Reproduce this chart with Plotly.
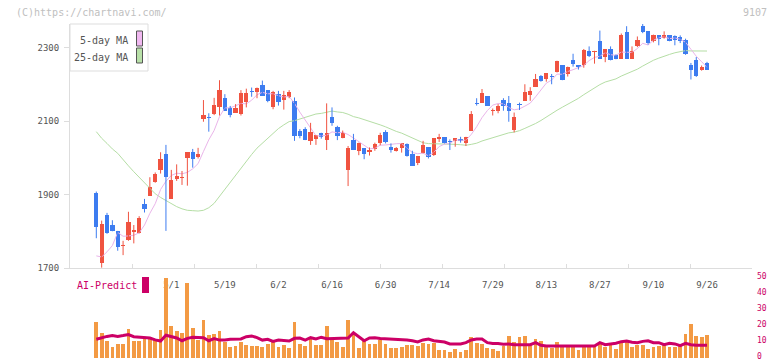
import plotly.graph_objects as go

# ---------------- data ----------------
tick_idx = [14, 24, 34, 44, 54, 64, 74, 84, 94, 104, 114]
tick_labels = ["5/1", "5/19", "6/2", "6/16", "6/30", "7/14", "7/29", "8/13", "8/27", "9/10", "9/26"]

open_ = [1905, 1714, 1844, 1817, 1801, 1759, 1776, 1799, 1796, 1874,
         1897, 1934, 1967, 2010, 1889, 1942, 1944, 2000, 2015, 2003,
         2105, 2111, 2118, 2139, 2162, 2136, 2123, 2119, 2152, 2182,
         2178, 2198, 2184, 2138, 2173, 2157, 2164, 2154, 2073, 2078,
         2046, 2051, 2068, 2048, 2112, 2085, 2053, 1967, 2048, 2019,
         2026, 2015, 2024, 2041, 2071, 2028, 2019, 2027, 2037, 2010,
         1987, 2012, 2028, 2007, 2052, 2056, 2045, 2046, 2050, 2041,
         2074, 2149, 2150, 2168, 2126, 2128, 2157, 2148, 2076, 2146,
         2155, 2171, 2193, 2222, 2214, 2222, 2232, 2252, 2228, 2266,
         2252, 2252, 2291, 2287, 2317, 2274, 2296, 2279, 2270, 2342,
         2270, 2305, 2358, 2344, 2317, 2334, 2326, 2333, 2330, 2328,
         2321, 2252, 2265, 2240, 2258]
high = [1908, 1829, 1850, 1830, 1801, 1774, 1853, 1817, 1841, 1888,
        1947, 1960, 2015, 2035, 1967, 1982, 1964, 2015, 2024, 2027,
        2157, 2121, 2163, 2211, 2173, 2141, 2146, 2184, 2188, 2191,
        2191, 2210, 2184, 2182, 2182, 2182, 2184, 2164, 2078, 2083,
        2095, 2062, 2068, 2148, 2137, 2087, 2074, 2032, 2065, 2041,
        2026, 2028, 2041, 2068, 2075, 2039, 2029, 2039, 2039, 2019,
        2005, 2046, 2028, 2053, 2065, 2056, 2050, 2053, 2057, 2057,
        2127, 2162, 2187, 2168, 2134, 2146, 2162, 2168, 2123, 2150,
        2200, 2192, 2228, 2225, 2230, 2228, 2264, 2252, 2248, 2283,
        2252, 2296, 2303, 2291, 2346, 2296, 2303, 2281, 2338, 2358,
        2303, 2330, 2364, 2344, 2335, 2334, 2344, 2333, 2333, 2333,
        2324, 2258, 2274, 2251, 2261]
low = [1781, 1701, 1793, 1800, 1747, 1735, 1774, 1767, 1794, 1851,
       1896, 1932, 1957, 1801, 1889, 1937, 1926, 1924, 1973, 1998,
       2098, 2071, 2116, 2115, 2128, 2110, 2123, 2115, 2137, 2166,
       2162, 2169, 2151, 2132, 2142, 2131, 2162, 2046, 2053, 2048,
       2035, 2035, 2052, 2021, 2087, 2048, 2053, 1923, 2021, 2007,
       1996, 2006, 2019, 2034, 2039, 2014, 2017, 2014, 2003, 1978,
       1980, 2012, 1998, 2005, 2043, 2039, 2021, 2030, 2041, 2032,
       2074, 2142, 2150, 2142, 2115, 2121, 2128, 2098, 2069, 2130,
       2155, 2155, 2193, 2207, 2207, 2200, 2232, 2211, 2221, 2248,
       2240, 2245, 2274, 2256, 2270, 2260, 2265, 2268, 2270, 2270,
       2270, 2301, 2339, 2308, 2314, 2306, 2324, 2317, 2306, 2312,
       2280, 2213, 2220, 2237, 2240]
close = [1812, 1821, 1794, 1801, 1756, 1760, 1825, 1803, 1835, 1861,
         1920, 1956, 1996, 1948, 1939, 1951, 1948, 2015, 1996, 2010,
         2116, 2107, 2143, 2184, 2128, 2117, 2136, 2175, 2177, 2178,
         2191, 2169, 2155, 2178, 2152, 2172, 2178, 2059, 2059, 2048,
         2071, 2062, 2057, 2068, 2094, 2059, 2068, 2027, 2021, 2041,
         2010, 2021, 2037, 2062, 2044, 2021, 2027, 2039, 2006, 1978,
         2005, 2035, 2003, 2053, 2056, 2039, 2043, 2053, 2046, 2057,
         2119, 2147, 2177, 2142, 2131, 2141, 2142, 2128, 2110, 2144,
         2178, 2183, 2214, 2210, 2230, 2220, 2264, 2212, 2247, 2255,
         2248, 2294, 2278, 2291, 2270, 2296, 2267, 2270, 2335, 2270,
         2291, 2320, 2341, 2312, 2335, 2324, 2333, 2317, 2321, 2317,
         2283, 2238, 2222, 2247, 2240]
# volume in 10k shares
volume = [908, 625, 433, 283, 350, 350, 725, 433, 433, 518,
          500, 475, 700, 2000, 808, 683, 625, 1875, 750, 458,
          950, 575, 600, 683, 393, 268, 308, 408, 325, 308,
          308, 283, 350, 433, 283, 333, 250, 908, 350, 308,
          518, 325, 325, 808, 500, 393, 283, 950, 643, 250,
          458, 350, 350, 458, 340, 250, 250, 268, 325, 325,
          293, 368, 350, 368, 208, 208, 143, 225, 143, 200,
          518, 375, 350, 250, 225, 183, 293, 543, 393, 518,
          543, 325, 475, 433, 325, 250, 393, 325, 325, 325,
          208, 325, 293, 293, 368, 283, 325, 225, 393, 450,
          283, 325, 325, 225, 268, 293, 333, 283, 268, 325,
          600, 850, 558, 533, 575]
ai_predict = [11.7, 12.7, 13.5, 14.0, 13.5, 14.0, 14.6, 13.3, 13.1, 13.1,
              12.5, 11.3, 10.6, 14.2, 13.3, 12.5, 10.8, 12.3, 13.0, 13.0,
              12.7, 10.8, 12.1, 11.2, 11.2, 11.7, 11.9, 11.9, 13.3, 13.8,
              12.7, 11.2, 11.7, 10.4, 11.2, 10.8, 10.6, 12.3, 12.5, 11.2,
              12.7, 11.9, 13.0, 12.1, 12.3, 12.3, 12.3, 12.5, 15.8, 13.3,
              10.8, 12.5, 12.7, 12.2, 12.1, 11.8, 11.7, 11.7, 11.3, 10.8,
              10.0, 11.3, 11.9, 10.8, 10.4, 10.0, 8.8, 8.8, 8.8, 9.6,
              11.3, 11.9, 11.9, 9.6, 9.0, 9.0, 8.6, 8.8, 8.3, 8.3,
              8.3, 8.3, 9.6, 7.9, 7.5, 7.5, 7.9, 7.9, 7.9, 7.9,
              7.5, 7.9, 7.5, 7.5, 9.6, 8.3, 8.8, 9.2, 10.2, 10.6,
              9.8, 9.6, 10.4, 10.8, 9.6, 9.6, 8.3, 9.2, 8.8, 7.7,
              9.2, 8.3, 7.9, 7.9, 7.9]
ma5_head = [1733, 1730, 1744, 1761]
ma25_head = [2071, 2053, 2039, 2024, 2012, 1994, 1978, 1962, 1947, 1933,
             1917, 1902, 1892, 1883, 1874, 1867, 1861, 1857, 1856, 1855,
             1857, 1864, 1876, 1895, 1916, 1934, 1952, 1970]
ticker = "9107"

# ---------------- derived ----------------
n = len(close)
idx = list(range(n))
ma5 = ma5_head + [sum(close[i - 4:i + 1]) / 5 for i in range(len(ma5_head), n)]
ma25 = ma25_head + [sum(close[i - 24:i + 1]) / 25 for i in range(len(ma25_head), n)]

W, H = 772, 361
def px(x): return x / W
def py(y): return 1 - y / H

X_L, X_R = 70, 752
FIRST_PX, STEP_PX = 96.3, 5.357
x_range = [(X_L - FIRST_PX) / STEP_PX, (X_R - FIRST_PX) / STEP_PX]
MAIN_TOP, MAIN_BOT = 24, 268
y_range = [1700, 1700 + (MAIN_BOT - MAIN_TOP) * 200 / 73.5]
SUB_TOP, SUB_BOT = 278, 358

UP, DOWN = "#f05340", "#3d7cf0"
FONT = "DejaVu Sans Mono"

fig = go.Figure()

# MA lines
fig.add_trace(go.Scatter(x=idx, y=ma25, mode="lines", line=dict(color="#b5dea5", width=1),
                         hoverinfo="skip", showlegend=False))
fig.add_trace(go.Scatter(x=idx, y=ma5, mode="lines", line=dict(color="#eab5ea", width=1),
                         hoverinfo="skip", showlegend=False))

# candles
for up, col in ((True, UP), (False, DOWN)):
    sel = [i for i in idx if (close[i] >= open_[i]) == up]
    wx, wy = [], []
    for i in sel:
        wx += [i, i, None]
        wy += [low[i], high[i], None]
    fig.add_trace(go.Scatter(x=wx, y=wy, mode="lines", line=dict(color=col, width=1),
                             hoverinfo="skip", showlegend=False))
    fig.add_trace(go.Bar(x=sel,
                         base=[min(open_[i], close[i]) for i in sel],
                         y=[max(abs(close[i] - open_[i]), 2.7) for i in sel],
                         width=0.8, marker=dict(color=col, line=dict(width=0)),
                         hoverinfo="skip", showlegend=False))

# volume + AI predict
fig.add_trace(go.Bar(x=idx, y=volume, width=0.7, marker=dict(color="#f39a44", line=dict(width=0)),
                     xaxis="x2", yaxis="y2", hoverinfo="skip", showlegend=False))
fig.add_trace(go.Scatter(x=idx, y=ai_predict, mode="lines", line=dict(color="#cc0066", width=3),
                         xaxis="x2", yaxis="y3", hoverinfo="skip", showlegend=False))

# decorative tick positions every 62 px along the time axis
n_grid = 11
grid_vals = [x_range[0] + k * (x_range[1] - x_range[0]) / n_grid for k in range(n_grid + 1)]

axis_font = dict(family=FONT, size=9, color="#555555")
fig.update_layout(
    width=W, height=H, autosize=False,
    margin=dict(l=0, r=0, t=0, b=0, autoexpand=False),
    paper_bgcolor="white", plot_bgcolor="white",
    barmode="overlay", bargap=0, hovermode=False,
    xaxis=dict(domain=[px(X_L), px(X_R)], range=x_range, showgrid=False, zeroline=False,
               showline=True, linecolor="#dddddd", linewidth=1, automargin=False,
               tickmode="array", tickvals=tick_idx, ticktext=tick_labels,
               ticks="", tickfont=axis_font, ticklabelstandoff=8, anchor="y"),
    xaxis3=dict(overlaying="x", matches="x", anchor="y", showgrid=False, zeroline=False,
                showline=False, tickmode="array", tickvals=grid_vals, ticks="inside",
                ticklen=4, tickcolor="#dddddd", showticklabels=False, side="bottom",
                automargin=False),
    yaxis=dict(domain=[py(MAIN_BOT), py(MAIN_TOP)], range=y_range, showgrid=False, zeroline=False,
               showline=True, linecolor="#dddddd", linewidth=1, automargin=False,
               tickmode="array", tickvals=[1700, 1900, 2100, 2300],
               ticks="outside", ticklen=5, tickcolor="#dddddd", tickfont=axis_font,
               ticklabelstandoff=3, anchor="x"),
    xaxis2=dict(domain=[px(X_L), px(X_R)], range=x_range, visible=False, anchor="y2",
                automargin=False),
    yaxis2=dict(domain=[py(SUB_BOT), py(SUB_TOP)], range=[0, 2000], visible=False, anchor="x2",
                automargin=False),
    yaxis3=dict(domain=[py(SUB_BOT), py(SUB_TOP)], range=[0, 50], overlaying="y2", side="right",
                anchor="x2", showgrid=False, zeroline=False, showline=False, automargin=False,
                tickmode="array", tickvals=[0, 10, 20, 30, 40, 50], ticks="",
                ticklabeloverflow="allow", ticklabelshift=-2,
                tickfont=dict(family=FONT, size=8, color="#cc0066"), ticklabelstandoff=4),
)
# put the decorative-tick axis on the main plot
fig.add_trace(go.Scatter(x=[None], y=[None], xaxis="x3", yaxis="y", showlegend=False, hoverinfo="skip"))

shapes = [
    dict(type="rect", xref="paper", yref="paper", x0=px(70), x1=px(148), y0=py(71), y1=py(24),
         line=dict(color="#dddddd", width=1), fillcolor="white", layer="above"),
    dict(type="rect", xref="paper", yref="paper", x0=px(136.5), x1=px(142.5), y0=py(46), y1=py(31),
         line=dict(color="#555555", width=1), fillcolor="#f0b8f0", layer="above"),
    dict(type="rect", xref="paper", yref="paper", x0=px(136.5), x1=px(142.5), y0=py(63), y1=py(48),
         line=dict(color="#555555", width=1), fillcolor="#b8e0a8", layer="above"),
    dict(type="rect", xref="paper", yref="paper", x0=px(142), x1=px(149), y0=py(293), y1=py(277),
         line=dict(width=0), fillcolor="#cc0066", layer="above"),
]
annotations = [
    dict(text="(C)https://chartnavi.com/", xref="paper", yref="paper", x=px(14), y=py(12.5),
         xanchor="left", yanchor="middle", showarrow=False,
         font=dict(family=FONT, size=10, color="#c0c0c0")),
    dict(text=ticker, xref="paper", yref="paper", x=px(769), y=py(12.5),
         xanchor="right", yanchor="middle", showarrow=False,
         font=dict(family=FONT, size=10, color="#c0c0c0")),
    dict(text="5-day MA", xref="paper", yref="paper", x=px(130), y=py(40.5),
         xanchor="right", yanchor="middle", showarrow=False,
         font=dict(family=FONT, size=10, color="#555555")),
    dict(text="25-day MA", xref="paper", yref="paper", x=px(130), y=py(57),
         xanchor="right", yanchor="middle", showarrow=False,
         font=dict(family=FONT, size=10, color="#555555")),
    dict(text="AI-Predict", xref="paper", yref="paper", x=px(75), y=py(285.5),
         xanchor="left", yanchor="middle", showarrow=False,
         font=dict(family=FONT, size=10, color="#cc0066")),
]
fig.update_layout(shapes=shapes, annotations=annotations)

fig.write_html("out.html", config={"displayModeBar": False, "staticPlot": True},
               post_script="document.body.style.margin='0';document.body.style.overflow='hidden';")
